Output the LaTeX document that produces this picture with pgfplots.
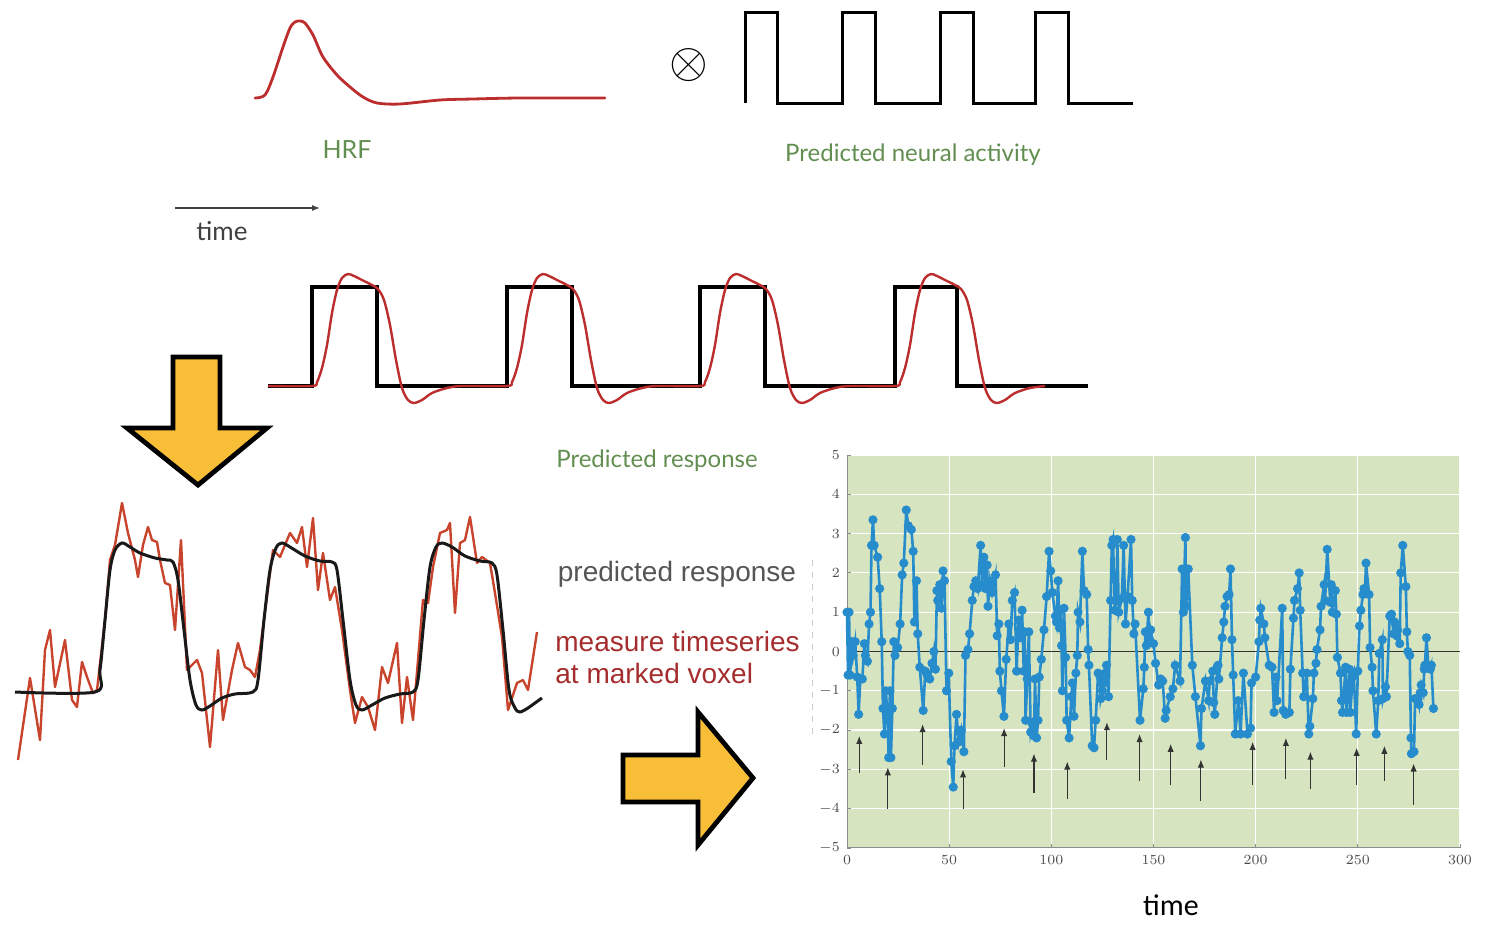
\documentclass[border=0pt]{standalone}
\usepackage{pgfplots}
\pgfplotsset{compat=1.18}
\usetikzlibrary{arrows.meta}
\usepackage{fontspec}
\setmainfont{Lato}
\newfontfamily\arialf{Liberation Sans}
\newfontfamily\calibrif{Carlito}

\definecolor{labelgreen}{RGB}{98,142,80}
\definecolor{hrfred}{RGB}{188,45,45}
\definecolor{noisered}{RGB}{200,68,45}
\definecolor{voxelred}{RGB}{165,45,45}
\definecolor{textgray}{RGB}{85,85,85}
\definecolor{arrowgold}{RGB}{248,190,55}
\definecolor{panelgreen}{RGB}{214,229,191}
\definecolor{seriesblue}{RGB}{38,140,204}

% measured voxel time series (arbitrary units)
\pgfplotstableread{
x y
0 1.0
0.5 -0.6
1 1.0
1.5 -0.6
2.5 0.25
3 -0.1
4 0.25
5 -0.65
5.7 -1.6
6.5 -0.7
7.5 -0.7
8.5 0.2
9 -0.1
10 -0.25
10.8 0.7
11.5 1.0
12 2.7
12.7 3.35
13.3 2.7
15 2.4
16 1.6
17 0.25
17.6 -1.45
18.3 -2.1
19 -1.0
19.7 -1.5
20.4 -2.7
21 -1.0
21.5 -2.7
22.2 -1.45
22.9 0.25
23.5 -0.1
24.8 0.1
26 0.7
27 1.95
27.8 2.25
29 3.6
30 3.2
31.5 3.1
32.4 2.55
33 0.75
34 1.8
34.6 0.45
35.6 -0.4
37.3 -1.5
38.3 -0.5
39.2 -0.6
40.5 -0.7
41.6 -0.3
42.5 0.0
43.3 -0.45
44 1.55
44.4 1.3
45.4 1.7
46.2 1.1
47 2.05
47.7 1.8
48.7 -1.0
49.8 -0.55
51 -2.8
52 -3.45
52.6 -2.4
53.6 -1.6
54.7 -2.3
55.9 -2.0
57.2 -2.55
58 -0.1
59.2 0.05
60 0.45
61.3 1.3
62.1 1.65
63 1.8
64 1.6
65.4 2.7
66 1.7
67 2.4
67.8 1.6
68.6 2.2
69 1.15
70 1.8
71 1.5
72.7 1.95
73.5 0.4
74.3 0.7
74.8 -0.5
75.6 -1.0
76.8 -1.65
77.9 -0.2
79.2 0.7
80 0.3
80.9 1.3
82 1.5
83 -0.5
84 0.8
84.9 0.35
85.7 1.05
86.5 -0.5
87 0.5
87.4 -1.75
88.2 -0.7
89 0.5
89.9 -2.05
90.7 -1.85
91.5 -2.15
92 -0.7
92.8 -2.2
93.5 -1.75
94.1 -0.65
95.1 -0.2
96.4 0.55
97.7 1.4
98.9 2.55
99.7 2.05
100.5 1.5
102 0.9
102.5 0.75
103.3 1.8
104 0.6
104.6 1.05
105 0.15
105.4 -1.0
106.2 1.1
107 -0.15
107.5 -1.75
108.7 -2.2
109.8 -1.15
110.3 -0.8
111.1 -1.65
112 -0.55
112.7 -0.1
113.1 1.0
114 0.75
115.2 2.55
116 1.55
117.3 1.45
118 0.05
118.4 -0.35
120 -2.4
120.9 -2.45
121.7 -1.75
122.9 -0.55
123.9 -0.65
124.2 -1.2
125 -1.0
125.8 -0.8
126.5 -0.55
127 -0.35
128 -1.15
129 1.3
129.6 2.7
130.2 2.85
131 1.05
131.8 1.3
132.3 2.85
133 1.0
134.5 1.35
135.4 2.7
136.3 0.7
137.3 1.4
139 2.85
139.6 1.3
140.4 0.45
141 0.7
143.4 -1.75
145 -0.95
145.5 -0.4
146 0.5
146.5 0.15
147.5 1.0
148 0.25
148.6 0.55
150 0.2
151 -0.3
152.5 -0.85
153.5 -0.7
154.5 -0.75
155.7 -1.7
156.2 -1.5
158.2 -1.15
159.5 -0.95
160.6 -0.35
163 -0.75
164 2.1
164.6 1.0
165.6 2.9
166 1.15
167 2.1
169 -0.35
170.5 -1.15
173 -2.4
173.5 -1.45
175.4 -0.75
177 -1.25
177.5 -0.75
179 -0.5
179.5 -1.3
180 -1.6
181.6 -0.35
182 -0.7
183.6 0.35
184.4 0.75
185 1.15
186 1.4
187 1.45
187.7 2.1
188.4 0.3
189 -0.6
190 -2.1
191.5 -1.25
192.6 -2.1
194 -0.55
196 -2.1
197.5 -1.95
198 -0.8
200 -0.65
201.6 0.25
202 0.8
202.5 1.1
204 0.7
204.5 0.35
206.6 -0.35
208 -0.4
209 -1.55
210 -0.65
210.5 -1.25
213 1.1
213.5 -1.5
214.7 -1.6
216.5 -1.55
217 -0.45
218.5 0.85
219 1.3
220.5 1.6
221.3 2.0
221.8 1.05
223 -0.55
223.5 -1.15
225 -0.55
226 -2.1
226.5 -1.9
228 -1.2
228.5 -0.55
229.5 -0.3
230 0.05
231.5 0.55
232 1.15
233.5 1.7
234 1.3
235 2.6
236.5 1.25
237 1.7
237.5 1.0
239 1.55
239.5 0.95
240 -0.15
241.5 -0.55
242 -1.25
242.5 -1.55
244 -0.4
244.5 -1.55
245.9 -0.45
246.3 -1.55
247.5 -0.65
248 -0.55
249.2 -2.1
250 -0.5
250.8 0.65
251.5 1.05
252.5 1.45
253 1.6
253.5 1.55
254 2.25
255.5 1.45
256 0.1
257 -0.4
257.4 -1.0
259 -2.1
260 -1.25
260.5 -0.05
262 0.3
262.3 -1.2
263.5 -0.9
264 -1.15
265.6 0.9
266.5 0.95
267.5 0.45
268 0.75
269 0.4
269.5 0.55
270.5 0.2
271 2.0
272 2.7
273.5 1.65
274 0.5
274.5 0.0
275.4 -0.1
276 -2.2
276.2 -2.6
277.5 -2.55
278 -1.2
279.5 -1.2
280 -1.35
280.5 -1.05
281 -0.85
282 -1.05
282.5 -0.45
282.8 -0.35
283.6 0.35
284.5 -0.35
285.5 -0.45
286 -0.35
287 -1.45
}\voxeldata

% stimulus onsets: arrow foot and length
\pgfplotstableread{
x y dy
6.0 -3.1 0.95
20.0 -4.0 1.05
37.0 -2.9 1.05
56.8 -4.0 1.0
76.9 -2.95 1.0
91.5 -3.6 1.0
107.8 -3.75 0.95
127.2 -2.75 0.95
143.2 -3.3 1.2
158.4 -3.4 1.05
173.2 -3.8 1.05
198.5 -3.4 1.1
214.8 -3.25 1.05
226.8 -3.5 0.95
249.4 -3.4 0.95
263.0 -3.3 0.9
277.3 -3.9 1.05
}\onsets

\begin{document}
\begin{tikzpicture}
\useasboundingbox (0,0) rectangle (742.5pt,463.5pt);

% schematic panels, drawn on a canvas measured in pixels from the top left
\begin{axis}[at={(0pt,0pt)}, anchor=south west, scale only axis,
  width=742.5pt, height=463.5pt, xmin=0, xmax=1485, ymin=0, ymax=927,
  y dir=reverse, hide axis, clip=false]

% haemodynamic response function
\addplot[hrfred, line width=1.4pt, smooth, line cap=round] coordinates {
(255,98) (265,95) (273,77) (283,47) (290,28) (295,22) (300,21) (305,23)
(313,35) (323,57) (337,75) (350,87) (363,97) (377,103) (400,104) (440,100)
(473,99) (520,98) (605,98)};

% predicted neural activity (block design)
\addplot[black, line width=1.5pt, line join=miter] coordinates {
(745,103) (745,12) (777,12) (777,103) (842,103) (842,12) (875,12) (875,103)
(940,103) (940,12) (973,12) (973,103) (1035,103) (1035,12) (1068,12) (1068,103)
(1133,103)};

% predicted response: blocks and convolved signal
\addplot[black, line width=1.7pt, line join=miter] coordinates {
(268,386) (312,386) (312,287) (377,287) (377,386) (507,386) (507,287) (572,287)
(572,386) (700,386) (700,287) (765,287) (765,386) (895,386) (895,287) (957,287)
(957,386) (1088,386)};
\addplot[hrfred, line width=1.2pt, smooth] coordinates {
(268,386) (312,386) (317,382) (322,368) (327,345) (332,313) (337,290) (342,278)
(348,274) (354,276) (362,280) (372,285) (378,289) (384,300) (390,325) (396,360)
(402,388) (408,400) (414,403) (422,400) (432,393) (447,388) (462,386)
(507,386) (512,382) (517,368) (522,345) (527,313) (532,290) (537,278) (543,274)
(549,276) (557,280) (567,285) (573,289) (579,300) (585,325) (591,360) (597,388)
(603,400) (609,403) (617,400) (627,393) (642,388) (657,386)
(700,386) (705,382) (710,368) (715,345) (720,313) (725,290) (730,278) (736,274)
(742,276) (750,280) (760,285) (766,289) (772,300) (778,325) (784,360) (790,388)
(796,400) (802,403) (810,400) (820,393) (835,388) (850,386)
(895,386) (900,382) (905,368) (910,345) (915,313) (920,290) (925,278) (931,274)
(937,276) (945,280) (955,285) (961,289) (967,300) (973,325) (979,360) (985,388)
(991,400) (997,403) (1005,400) (1015,393) (1030,388) (1045,386)};

% measured voxel time course and model fit
\addplot[noisered, line width=1.2pt, line join=round] coordinates {
(18,760) (30,678) (40,740) (45,650) (50,630) (55,687) (65,640) (72,700)
(77,707) (82,662) (87,677) (93,693) (97,690) (105,620) (110,560) (115,545)
(122,503) (128,533) (135,560) (138,577) (143,545) (148,527) (152,540) (157,542)
(160,560) (165,583) (170,585) (175,630) (181,540) (187,670) (197,660) (202,673)
(210,747) (218,650) (223,720) (232,670) (238,643) (245,667) (250,670) (255,677)
(260,650) (273,550) (280,557) (290,533) (297,543) (302,527) (307,567) (313,518)
(318,590) (323,553) (330,600) (335,587) (342,630) (350,690) (355,723) (362,697)
(368,707) (375,730) (382,667) (388,683) (397,643) (402,723) (407,677) (413,720)
(423,600) (428,603) (433,567) (440,533) (447,530) (450,523) (455,613) (460,543)
(465,540) (470,517) (477,563) (482,557) (490,563) (495,593) (502,637) (508,710)
(517,683) (523,680) (528,690) (537,632)};
\addplot[black!90, line width=1.5pt, smooth] coordinates {
(15,692) (95,692) (100,670) (105,620) (110,570) (115,550) (122,543) (130,547)
(140,553) (155,558) (167,560) (173,562) (178,580) (184,630) (190,680) (196,705)
(202,710) (210,706) (222,698) (235,694) (253,692) (258,680) (264,620) (270,570)
(276,548) (282,543) (290,547) (305,556) (320,561) (332,562) (337,570) (343,620)
(350,680) (356,705) (362,710) (372,705) (385,698) (400,694) (413,692) (418,680)
(424,620) (430,567) (436,547) (442,543) (452,547) (465,556) (480,561) (492,563)
(497,575) (503,630) (509,690) (515,708) (520,712) (528,708) (535,703) (542,698)};

% block arrows
\addplot[draw=black, fill=arrowgold, line width=2.4pt, line join=miter] coordinates {
(173,357) (220,357) (220,428) (267,428) (198,485) (127,428) (173,428)} -- cycle;
\addplot[draw=black, fill=arrowgold, line width=2.4pt, line join=miter] coordinates {
(623,755) (698,755) (698,712) (753,778) (698,845) (698,802) (623,802)} -- cycle;

% time axis arrow
\addplot[black!75, line width=0.6pt, -{Latex[length=4pt,width=3pt]}] coordinates {(175,208) (320,208)};
\addplot[black!20, line width=0.4pt, dashed] coordinates {(812,560) (812,740)};

% labels
\node[text=labelgreen, font=\fontsize{12.5}{14}\selectfont] at (axis cs:347,150) {HRF};
\node[text=labelgreen, font=\fontsize{12}{14}\selectfont] at (axis cs:913,155) {Predicted neural activity};
\node[text=black!75, font=\fontsize{13}{15}\selectfont] at (axis cs:222,231) {time};
\node[text=labelgreen, font=\fontsize{12}{14}\selectfont] at (axis cs:657,461) {Predicted response};
\node at (axis cs:689,65) {\fontsize{26}{26}\selectfont$\otimes$};
\node[text=textgray, font=\arialf\fontsize{14}{16}\selectfont] at (axis cs:677,574) {predicted response};
\node[anchor=west, text=voxelred, font=\arialf\fontsize{14}{16}\selectfont, inner sep=0pt] at (axis cs:555,641) {measure timeseries};
\node[anchor=west, text=voxelred, font=\arialf\fontsize{14}{16}\selectfont, inner sep=0pt] at (axis cs:555,673) {at marked voxel};
\node[text=black, font=\calibrif\fontsize{15}{18}\selectfont, inner sep=1pt] at (axis cs:1171,905) {time};
\end{axis}

% voxel time series panel
\begin{axis}[at={(423.5pt,39.5pt)}, anchor=south west, scale only axis,
  width=306.5pt, height=196.5pt, xmin=0, xmax=300, ymin=-5, ymax=5,
  axis background/.style={fill=panelgreen},
  axis x line*=bottom, axis y line*=left,
  axis line style={black!45, line width=0.5pt},
  xtick={0,50,...,300}, ytick={-5,-4,...,5},
  grid=major, grid style={white, line width=0.6pt},
  tick style={black!45, line width=0.4pt}, major tick length=2pt,
  tick label style={font=\fontsize{7}{8}\selectfont, text=black!70},
  clip=false]
\addplot[black!80, line width=0.6pt, forget plot] coordinates {(0,0) (300,0)};
\addplot[seriesblue, line width=1.3pt, mark=*, mark size=1.6pt,
  mark options={fill=seriesblue, draw=seriesblue}] table[x=x, y=y] {\voxeldata};
\addplot[black!80, line width=0.55pt, -{Latex[length=4pt,width=3.2pt]},
  quiver={u=0, v=\thisrow{dy}}] table[x=x, y=y] {\onsets};
\end{axis}
\end{tikzpicture}
\end{document}
